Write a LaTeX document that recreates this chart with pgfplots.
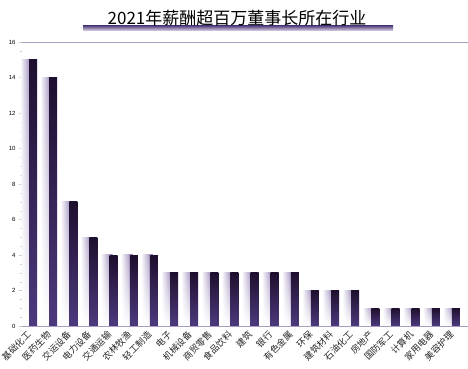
\documentclass[border=0pt]{standalone}
\usepackage{graphicx}
\usepackage{pgfplots}
\pgfplotsset{compat=1.18}
\usetikzlibrary{fadings}
\usepackage{fontspec}
\setmainfont{Liberation Sans}
\newfontfamily\cjk{Noto Sans CJK SC}
\definecolor{bartop}{HTML}{1E0F2E}
\definecolor{barbot}{HTML}{4D3A7E}
\definecolor{shad}{HTML}{8C78B0}
\definecolor{axl}{HTML}{A89CC0}
\definecolor{ulin}{HTML}{5E4C86}
\newcommand{\rl}[1]{\rotatebox{45}{#1}}
\pgfplotstableread{
x y
0 15
1 14
2 7
3 5
4 4
5 4
6 4
7 3
8 3
9 3
10 3
11 3
12 3
13 3
14 2
15 2
16 2
17 1
18 1
19 1
20 1
21 1
}\datatable
\begin{document}
\begin{tikzpicture}
\useasboundingbox (-22pt,-43pt) rectangle (446pt,326pt);
\begin{axis}[
  at={(0pt,0pt)}, anchor=south west,
  scale only axis, width=446pt, height=284pt,
  xmin=-0.55, xmax=21.6, ymin=0, ymax=16,
  ytick={0,2,...,16}, minor y tick num=3,
  xtick={0,...,21},
  xticklabels={\rl{基础化工},\rl{医药生物},\rl{交运设备},\rl{电力设备},\rl{交通运输},\rl{农林牧渔},\rl{轻工制造},\rl{电子},\rl{机械设备},\rl{商贸零售},\rl{食品饮料},\rl{建筑},\rl{银行},\rl{有色金属},\rl{环保},\rl{建筑材料},\rl{石油化工},\rl{房地产},\rl{国防军工},\rl{计算机},\rl{家用电器},\rl{美容护理}},
  xticklabel style={font=\cjk\fontsize{9}{9}\selectfont, anchor=north east, inner sep=1pt, text=black!85},
  yticklabel style={font=\fontsize{6}{6}\selectfont},
  /pgf/number format/assume math mode=true,
  axis line style={draw=none},
  xtick style={draw=none},
  ytick style={draw=gray!45},
  tick align=outside, major tick length=3pt, minor tick length=2pt,
  clip=false,
]
\pgfplotsinvokeforeach{0,...,21}{
\addplot[ybar, bar width=12pt, bar shift=-7pt, draw=none,
  left color=white, right color=shad, path fading=south,
  restrict x to domain=#1:#1] table[x=x,y=y] {\datatable};
\addplot[ybar, bar width=8pt, bar shift=0pt, draw=none,
  top color=bartop, bottom color=barbot,
  restrict x to domain=#1:#1] table[x=x,y=y] {\datatable};
}
\draw[axl, line width=0.8pt] (rel axis cs:0,1) -- (rel axis cs:1,1);
\draw[axl, line width=0.8pt] (rel axis cs:0,0) -- (rel axis cs:1,0);
\end{axis}
\shade[top color=ulin, bottom color=axl!35] (61pt,295pt) rectangle (371pt,300pt);
\node[font=\cjk\fontsize{17}{17}\selectfont, inner sep=0pt] at (215pt,308pt) {2021年薪酬超百万董事长所在行业};
\end{tikzpicture}
\end{document}
